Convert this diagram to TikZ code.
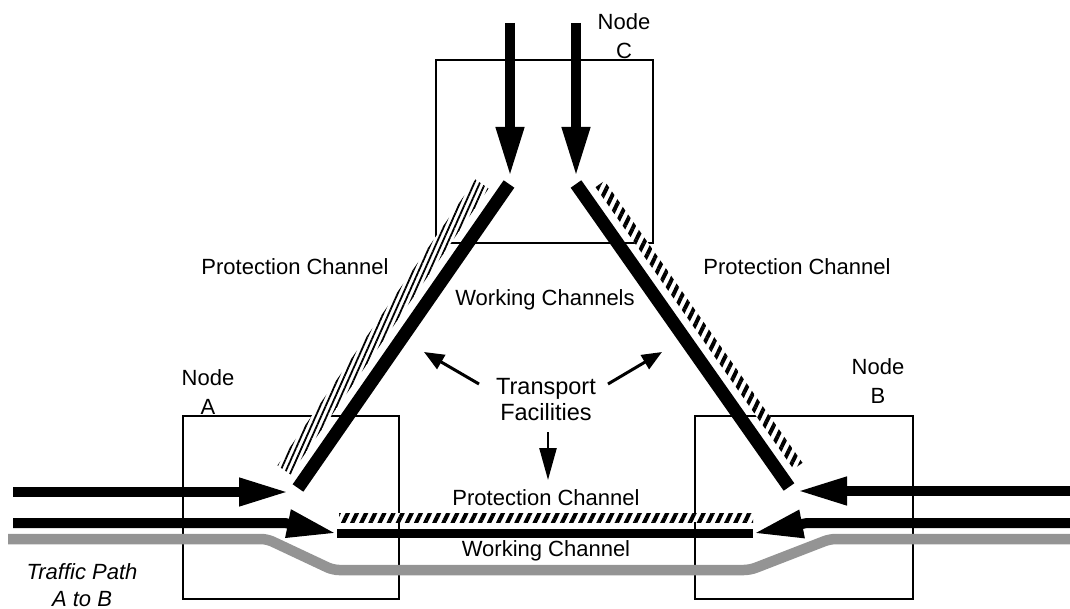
\documentclass[tikz,border=0pt]{standalone}
\usepackage{fontspec}
\setmainfont{Liberation Sans}
\usetikzlibrary{arrows.meta,calc,patterns.meta}
\begin{document}
\begin{tikzpicture}[x=1pt,y=-1pt,
  box/.style={draw, line width=1.6pt, inner sep=0pt, anchor=north west},
  lbl/.style={font=\fontsize{22}{28.5}\selectfont, inner sep=0pt, align=center},
  big/.style={font=\fontsize{23.5}{26}\selectfont, inner sep=0pt, align=center},
  fat/.style={line width=10pt, -{Triangle[length=50pt,width=26pt]}},
  work/.style={line width=13pt, line cap=butt},
  prot/.style={fill=white, postaction={pattern={Lines[angle=64,distance=8.2pt,line width=4pt]}}},
  protthin/.style={fill=white, postaction={pattern={Lines[angle=66,distance=5pt,line width=1.8pt]}}},
  thinarrow/.style={line width=3pt, -{Triangle[length=20pt,width=16pt]}},
  traffic/.style={draw=black!42, line width=10.5pt},
]
\useasboundingbox (0,0) rectangle (1070,609);

% node boxes
\node[box, minimum width=217pt, minimum height=183pt] (boxC) at (435,59) {};
\node[box, minimum width=216pt, minimum height=183pt] (boxA) at (182,415) {};
\node[box, minimum width=218pt, minimum height=183pt] (boxB) at (694,415) {};

% traffic path
\coordinate (t1) at (8,539);
\coordinate (t2) at (267,539);
\coordinate (t3) at (333,570);
\coordinate (t4) at (750,570);
\coordinate (t5) at (830,539);
\coordinate (t6) at (1070,539);
\draw[traffic, rounded corners=6pt] (t1) -- (t2) -- (t3) -- (t4) -- (t5) -- (t6);

% protection channels (diagonal)
\coordinate (pl1) at (482,184);
\coordinate (pl2) at (284,470);
\path[protthin] ($(pl1)!8pt!90:(pl2)$) -- ($(pl1)!8pt!-90:(pl2)$) -- ($(pl2)!8pt!90:(pl1)$) -- ($(pl2)!8pt!-90:(pl1)$) -- cycle;
\coordinate (pr1) at (600,184);
\coordinate (pr2) at (798,466);
\path[prot] ($(pr1)!5.5pt!90:(pr2)$) -- ($(pr1)!5.5pt!-90:(pr2)$) -- ($(pr2)!5.5pt!90:(pr1)$) -- ($(pr2)!5.5pt!-90:(pr1)$) -- cycle;

% protection channel (bottom)
\coordinate (pb1) at (339,513);
\coordinate (pb2) at (753,522);
\path[prot] (pb1) rectangle (pb2);

% working channels
\coordinate (wl1) at (509,184);
\coordinate (wl2) at (298,488);
\coordinate (wr1) at (576,184);
\coordinate (wr2) at (789,487);
\draw[work] (wl1) -- (wl2);
\draw[work] (wr1) -- (wr2);
\coordinate (wb1) at (337,533.5);
\coordinate (wb2) at (753,533.5);
\draw[line width=9pt] (wb1) -- (wb2);

% arrows into node C
\coordinate (c1s) at (510,23);
\coordinate (c1e) at (510,177);
\coordinate (c2s) at (576,23);
\coordinate (c2e) at (576,177);
\draw[fat] (c1s) -- (c1e);
\draw[fat] (c2s) -- (c2e);

% arrows into node A
\coordinate (a1s) at (13,492);
\coordinate (a1e) at (289,492);
\draw[fat] (a1s) -- (a1e);
\coordinate (a2s) at (13,523);
\coordinate (a2m) at (285,523);
\draw[fat] (a2s) -- (a2m) -- (wb1);

% arrows into node B
\coordinate (b1s) at (1070,491);
\coordinate (b1e) at (797,491);
\draw[fat] (b1s) -- (b1e);
\coordinate (b2s) at (1070,523);
\coordinate (b2m) at (807,523);
\draw[fat] (b2s) -- (b2m) -- (wb2);

% labels
\node[lbl] (lC) at (624,36) {Node\\C};
\node[lbl] (lA) at (208,392) {Node\\A};
\node[lbl] (lB) at (878,381) {Node\\B};
\node[lbl] (pcl) at (295,267) {Protection Channel};
\node[lbl] (pcr) at (797,267) {Protection Channel};
\node[lbl] (wcs) at (545,300) {Working Channels};
\node[big] (tf) at (546,400) {Transport\\Facilities};
\node[lbl] (pcb) at (546,498) {Protection Channel};
\node[lbl] (wcb) at (546,551) {Working Channel};
\node[lbl, font=\fontsize{22}{27}\selectfont\itshape] (tp) at (82,585) {Traffic Path\\A to B};

% transport facility arrows
\coordinate (f1s) at (479,384);
\coordinate (f1e) at (424,352);
\coordinate (f2s) at (608,384);
\coordinate (f2e) at (662,352);
\coordinate (f3s) at (548,432);
\coordinate (f3e) at (548,480);
\draw[thinarrow] (f1s) -- (f1e);
\draw[thinarrow] (f2s) -- (f2e);
\draw[line width=2.5pt, -{Triangle[length=32pt,width=17pt]}] (f3s) -- (f3e);
\end{tikzpicture}
\end{document}
